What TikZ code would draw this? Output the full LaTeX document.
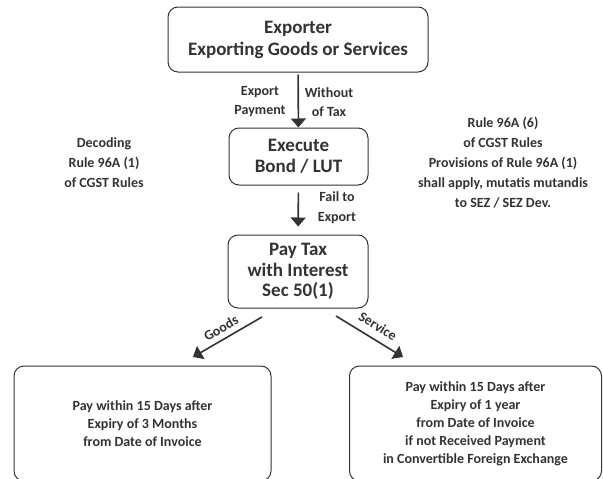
\documentclass[tikz,border=0pt]{standalone}
\usepackage{fontspec}
\setmainfont{Carlito}
\usetikzlibrary{arrows.meta}
\definecolor{ink}{HTML}{333333}
\begin{document}
\begin{tikzpicture}[x=1pt,y=-1pt,
  box/.style={draw=ink, line width=1pt, rounded corners=10pt, inner sep=0pt, align=center, text=ink},
  bigtxt/.style={font=\fontsize{19}{22}\selectfont\bfseries},
  midtxt/.style={font=\fontsize{19}{20.5}\selectfont\bfseries},
  smalltxt/.style={font=\fontsize{14}{20}\selectfont\bfseries, text=ink, align=center, inner sep=0pt},
  lbltxt/.style={font=\fontsize{14}{19}\selectfont\bfseries, text=ink, align=center, inner sep=0pt},
  boxtxt/.style={font=\fontsize{14}{18}\selectfont\bfseries},
  arr/.style={draw=ink, line width=1.6pt, -{Triangle[width=15pt,length=9pt]}}
]
\clip (0,0) rectangle (603,479);
\useasboundingbox (0,0) rectangle (603,479);

\node[box, bigtxt, minimum width=260pt, minimum height=65pt] (top) at (298,39.5)
  {Exporter\\Exporting Goods or Services};
\node[box, midtxt, minimum width=139pt, minimum height=57pt] (exec) at (298.5,156.5)
  {Execute\\Bond / LUT};
\node[box, midtxt, minimum width=140pt, minimum height=73pt] (pay) at (298,271.5)
  {Pay Tax\\with Interest\\Sec 50(1)};
\node[box, boxtxt, minimum width=257pt, minimum height=115pt] (goodsbox) at (142.5,423.5)
  {Pay within 15 Days after\\Expiry of 3 Months\\from Date of Invoice};
\node[box, boxtxt, minimum width=252pt, minimum height=115pt] (servbox) at (475.5,423.5)
  {Pay within 15 Days after\\Expiry of 1 year\\from Date of Invoice\\if not Received Payment\\in Convertible Foreign Exchange};

\draw[arr, shorten <=2pt] (top) -- (exec);
\node[lbltxt] (lblA) at (260,102) {Export\\Payment};
\node[lbltxt] (lblB) at (329,102) {Without\\of Tax};

\draw[arr, shorten <=7pt, shorten >=8pt] (exec) -- (pay);
\node[smalltxt] (lblC) at (337,208) {Fail to\\Export};

\coordinate (g1) at (262,317);
\coordinate (g2) at (193,357);
\coordinate (s1) at (336,316);
\coordinate (s2) at (403,357);
\draw[arr] (g1) -- (g2);
\draw[arr] (s1) -- (s2);
\node[lbltxt, rotate=30] (lblG) at (221,328) {Goods};
\node[lbltxt, rotate=-32] (lblS) at (378,326) {Service};

\node[smalltxt] (left) at (104,163) {Decoding\\Rule 96A (1)\\of CGST Rules};
\node[smalltxt] (right) at (503,163) {Rule 96A (6)\\of CGST Rules\\Provisions of Rule 96A (1)\\shall apply, mutatis mutandis\\to SEZ / SEZ Dev.};
\end{tikzpicture}
\end{document}
